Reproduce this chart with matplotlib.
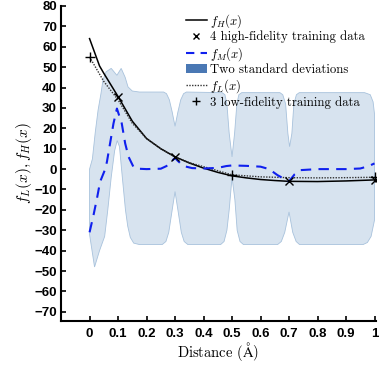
import numpy as np
import matplotlib
matplotlib.use("Agg")
import matplotlib.pyplot as plt
from matplotlib.lines import Line2D
from matplotlib.patches import Patch

plt.rcParams['mathtext.fontset'] = 'cm'
serif = ['cmr10', 'DejaVu Serif']

# f_H(x): high-fidelity function
xh = [0, 0.035, 0.05, 0.1, 0.15, 0.2, 0.25, 0.3, 0.35, 0.4, 0.45, 0.5,
      0.55, 0.6, 0.65, 0.7, 0.8, 0.9, 1.0]
yh = [64, 50.6, 47, 35.6, 23.5, 15, 10, 6, 3, 0.5, -1.6, -3.3,
      -4.3, -5.1, -5.6, -6, -6.1, -5.8, -5.3]

# f_L(x): low-fidelity function
xl = [0, 0.05, 0.1, 0.15, 0.2, 0.25, 0.3, 0.35, 0.4, 0.5, 0.6, 0.7, 0.8, 0.9, 1.0]
yl = [55, 43, 34, 22.5, 15, 10, 6, 3.2, 1.2, -2.8, -3.8, -4.2, -4.3, -4.2, -4.0]

# f_M(x): multi-fidelity mean
xm = [0, 0.014, 0.026, 0.037, 0.055, 0.061, 0.072, 0.084, 0.096, 0.113, 0.125,
      0.137, 0.154, 0.17, 0.2, 0.25, 0.27, 0.3, 0.31, 0.33, 0.36, 0.4, 0.45,
      0.48, 0.5, 0.55, 0.6, 0.63, 0.66, 0.7, 0.72, 0.74, 0.8, 0.9, 0.95, 0.98, 1.0]
ym = [-31, -22.5, -14.4, -6.2, 0, 3.6, 12.6, 22.4, 29.7, 22.4, 12.6,
      6, 1.1, 0.2, 0, 0.2, 1.5, 5.5, 4, 1.5, 0.5, 0.3, 0.6,
      1.5, 1.8, 1.6, 1.2, 0, -3, -6, -2.5, -0.5, 0, 0, 0.3, 1.5, 2.8]

# two standard deviation band: upper and lower boundaries
xu = [0, 0.01, 0.02, 0.03, 0.04, 0.047, 0.058, 0.076, 0.096, 0.111, 0.125, 0.135,
      0.15, 0.175, 0.26, 0.27, 0.28, 0.29, 0.3, 0.31, 0.32, 0.33, 0.34, 0.465,
      0.475, 0.482, 0.49, 0.5, 0.509, 0.517, 0.524, 0.534, 0.668, 0.678, 0.688,
      0.696, 0.702, 0.71, 0.717, 0.726, 0.736, 0.965, 0.985, 0.995, 1.0]
yu = [0, 5, 18, 29, 37, 43.6, 47.7, 49.4, 46, 49.4, 45, 40.3,
      38.3, 37.8, 37.8, 37, 34, 28, 21, 28, 34, 37, 37.8, 37.5,
      36.5, 32, 17.6, 6, 17.6, 32, 36.5, 37.5, 37.5, 36.5, 32,
      17.5, 11, 17.5, 32, 36.5, 37.5, 37.5, 36.5, 33, 27]
xlo = [0, 0.0175, 0.035, 0.053, 0.064, 0.076, 0.088, 0.097, 0.105, 0.115, 0.126,
       0.134, 0.143, 0.155, 0.175, 0.255, 0.268, 0.278, 0.29, 0.3, 0.31, 0.322,
       0.332, 0.345, 0.46, 0.472, 0.482, 0.49, 0.5, 0.51, 0.518, 0.528, 0.54,
       0.66, 0.673, 0.685, 0.7, 0.713, 0.725, 0.737, 0.96, 0.975, 0.988, 1.0]
ylo = [-32, -48, -40, -33, -20, -4, 9, 14, 11, -4, -20,
       -28, -33.5, -36.3, -37, -37, -35.5, -31, -20, -11, -20, -31,
       -35.5, -37, -37, -35.5, -30, -20, -4, -15, -30, -35.5, -37,
       -37, -35.5, -31, -21, -31, -35.5, -37, -37, -36, -33, -25]

# training data
x_hf = [0.1, 0.3, 0.7, 1.0]
y_hf = [35.6, 6, -6, -5.3]
x_lf = [0, 0.5, 1.0]
y_lf = [55, -2.8, -4.0]

xticks = [0, 0.1, 0.2, 0.3, 0.4, 0.5, 0.6, 0.7, 0.8, 0.9, 1]
xticklabels = ['0', '0.1', '0.2', '0.3', '0.4', '0.5', '0.6', '0.7', '0.8', '0.9', '1']
yticks = list(range(-70, 81, 10))

fig = plt.figure(figsize=(3.84, 3.70), dpi=100)
ax = fig.add_axes([0.159, 0.1324, 0.82, 0.8514])

band_x = np.concatenate([xu, xlo[::-1]])
band_y = np.concatenate([yu, ylo[::-1]])
ax.fill(band_x, band_y, facecolor='#d7e3ef', edgecolor='#a8c2dc', linewidth=0.6, zorder=1)

ax.plot(xh, yh, color='black', linewidth=1.1, zorder=3)
ax.plot(xl, yl, color='#333333', linewidth=1.0, linestyle=(0, (1, 1)), zorder=3)
ax.plot(xm, ym, color='#1020ee', linewidth=1.5, linestyle=(0, (5, 3.5)), zorder=4)
ax.plot(x_hf, y_hf, linestyle='none', marker='x', color='black', markersize=6,
        markeredgewidth=1.0, zorder=5)
ax.plot(x_lf, y_lf, linestyle='none', marker='+', color='black', markersize=7,
        markeredgewidth=1.0, zorder=5)

ax.set_xlim(-0.1, 1.005)
ax.set_ylim(-74.5, 80)
ax.spines['top'].set_visible(False)
ax.spines['right'].set_visible(False)
ax.spines['left'].set_linewidth(1.5)
ax.spines['bottom'].set_linewidth(1.5)

ax.set_xticks(xticks)
ax.set_xticklabels(xticklabels)
ax.set_yticks(yticks)
ax.tick_params(direction='in', length=3.5, width=1.2, pad=5)
ax.tick_params(axis='y', pad=3)
for lab in ax.get_xticklabels() + ax.get_yticklabels():
    lab.set_fontfamily('Liberation Sans')
    lab.set_fontweight('bold')
    lab.set_fontsize(9.5)

ax.set_xlabel('Distance ($\\mathrm{\\AA}$)', family=serif, fontsize=10.5, labelpad=0)
ax.set_ylabel('$f_L(x), f_H(x)$', fontsize=11, labelpad=0)

handles = [
    Line2D([], [], color='black', linewidth=1.1),
    Line2D([], [], linestyle='none', marker='x', color='black', markersize=5),
    Line2D([], [], color='#1020ee', linewidth=1.5, linestyle=(0, (4, 3))),
    Patch(facecolor='#4a78b4', edgecolor='none'),
    Line2D([], [], color='#333333', linewidth=1.0, linestyle=(0, (1, 1))),
    Line2D([], [], linestyle='none', marker='+', color='black', markersize=6),
]
labels = ['$f_H(x)$', '4 high-fidelity training data', '$f_M(x)$',
          'Two standard deviations', '$f_L(x)$', '3 low-fidelity training data']
leg = fig.legend(handles, labels, loc='upper left', bbox_to_anchor=(0.478, 0.975),
                 frameon=False, prop={'family': serif, 'size': 9.2},
                 handlelength=1.6, handletextpad=0.25, labelspacing=0.1,
                 borderpad=0.2, borderaxespad=0)

fig.savefig('out.png', dpi=100)
